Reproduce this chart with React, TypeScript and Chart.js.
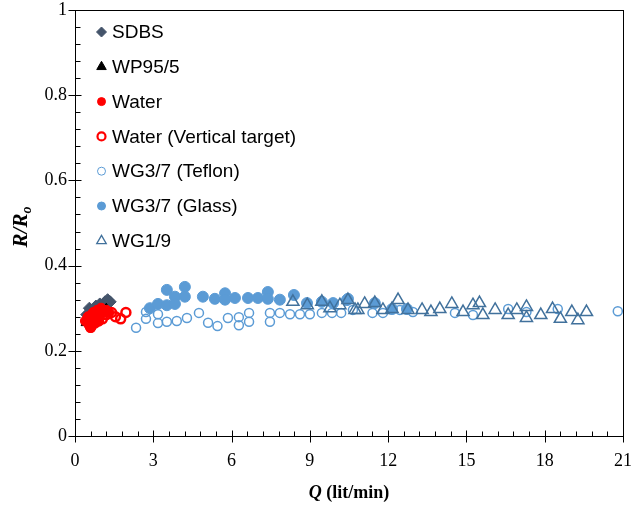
import React, { useEffect, useRef } from 'react';
import { Chart, registerables } from 'chart.js';

Chart.register(...registerables);

// ---- Data (Q in lit/min, R/Ro) ----
const seriesNames = ['SDBS', 'WP95/5', 'Water', 'Water (Vertical target)', 'WG3/7 (Teflon)', 'WG3/7 (Glass)', 'WG1/9'];

const sdbsQ = [0.45, 0.55, 0.7, 0.8, 0.95, 1.05, 1.15, 1.25, 1.35];
const sdbsR = [0.285, 0.3, 0.295, 0.305, 0.31, 0.305, 0.315, 0.32, 0.315];

const wpQ = [0.4, 0.55, 0.7, 0.85, 1.0, 1.1, 1.2];
const wpR = [0.265, 0.275, 0.29, 0.28, 0.29, 0.295, 0.3];

const waterQ = [0.4, 0.5, 0.55, 0.65, 0.7, 0.8, 0.85, 0.95, 1.0, 1.1, 1.2, 1.3, 0.6, 0.9];
const waterR = [0.27, 0.28, 0.26, 0.275, 0.29, 0.28, 0.295, 0.285, 0.3, 0.29, 0.295, 0.29, 0.255, 0.27];

const waterVQ = [0.6, 0.75, 0.9, 1.05, 1.2, 1.4, 1.55, 1.75, 1.95];
const waterVR = [0.255, 0.265, 0.27, 0.275, 0.285, 0.29, 0.28, 0.275, 0.29];

const teflonQ = [2.34, 2.72, 2.72, 3.18, 3.18, 3.52, 3.9, 4.29, 4.75, 5.1, 5.46, 5.86, 6.28, 6.28, 6.67, 6.67, 7.47, 7.47, 7.85, 8.24, 8.62, 9.0, 9.46, 9.85, 10.2, 10.65, 11.4, 11.8, 12.45, 12.95, 14.56, 15.25, 16.6, 17.3, 18.5, 20.8];
const teflonR = [0.254, 0.275, 0.291, 0.286, 0.265, 0.268, 0.27, 0.277, 0.289, 0.266, 0.258, 0.277, 0.279, 0.26, 0.289, 0.268, 0.289, 0.268, 0.289, 0.286, 0.286, 0.286, 0.289, 0.289, 0.289, 0.296, 0.289, 0.289, 0.296, 0.291, 0.289, 0.284, 0.298, 0.291, 0.298, 0.293];

const glassQ = [2.87, 3.18, 3.52, 3.52, 3.83, 3.83, 4.21, 4.21, 4.9, 5.36, 5.75, 5.75, 6.13, 6.63, 7.01, 7.39, 7.39, 7.85, 8.39, 8.89, 9.46, 9.89, 10.42, 10.46, 11.49, 12.15, 12.72];
const glassR = [0.3, 0.31, 0.343, 0.307, 0.327, 0.31, 0.35, 0.327, 0.327, 0.322, 0.335, 0.32, 0.324, 0.324, 0.324, 0.338, 0.322, 0.32, 0.331, 0.312, 0.315, 0.312, 0.319, 0.322, 0.312, 0.298, 0.298];

const wg19Q = [8.35, 8.9, 9.46, 9.77, 10.15, 10.46, 10.73, 10.84, 11.1, 11.49, 11.8, 12.15, 12.38, 12.76, 13.3, 13.64, 13.98, 14.44, 14.87, 15.25, 15.5, 15.63, 16.1, 16.6, 16.93, 17.3, 17.3, 17.85, 18.3, 18.6, 19.04, 19.27, 19.6];
const wg19R = [0.315, 0.307, 0.315, 0.3, 0.307, 0.319, 0.296, 0.296, 0.31, 0.312, 0.296, 0.298, 0.319, 0.296, 0.296, 0.291, 0.298, 0.31, 0.291, 0.307, 0.312, 0.284, 0.296, 0.284, 0.296, 0.303, 0.277, 0.284, 0.298, 0.275, 0.291, 0.272, 0.291];

const xMin = 0, xMax = 21, xStep = 3, xMinorStep = 0.6;
const yMin = 0, yMax = 1, yStep = 0.2, yMinorStep = 0.04;

const SERIF = '"Liberation Serif", "Times New Roman", serif';
const SANS = '"Liberation Sans", Arial, sans-serif';

function pts(q: number[], r: number[]) {
  return q.map((x, i) => ({ x, y: r[i] }));
}

type Marker = { shape: 'rectRot' | 'triangle' | 'circle'; fill: string; stroke: string; lw: number; r: number };
const legendMarkers: Marker[] = [
  { shape: 'rectRot', fill: '#44546A', stroke: '#44546A', lw: 1, r: 5 },
  { shape: 'triangle', fill: '#000000', stroke: '#000000', lw: 1, r: 5.5 },
  { shape: 'circle', fill: '#FF0000', stroke: '#FF0000', lw: 1, r: 4 },
  { shape: 'circle', fill: 'rgba(0,0,0,0)', stroke: '#FF0000', lw: 2.2, r: 4 },
  { shape: 'circle', fill: 'rgba(0,0,0,0)', stroke: '#5B9BD5', lw: 1, r: 4 },
  { shape: 'circle', fill: '#5B9BD5', stroke: '#5B9BD5', lw: 1, r: 4 },
  { shape: 'triangle', fill: 'rgba(0,0,0,0)', stroke: '#41719C', lw: 1.3, r: 5.5 },
];

function drawMarker(ctx: CanvasRenderingContext2D, m: Marker, x: number, y: number) {
  ctx.save();
  ctx.beginPath();
  if (m.shape === 'circle') {
    ctx.arc(x, y, m.r, 0, Math.PI * 2);
  } else if (m.shape === 'rectRot') {
    ctx.moveTo(x, y - m.r);
    ctx.lineTo(x + m.r, y);
    ctx.lineTo(x, y + m.r);
    ctx.lineTo(x - m.r, y);
    ctx.closePath();
  } else {
    const a = m.r;
    ctx.moveTo(x, y - a);
    ctx.lineTo(x + a * Math.sin(Math.PI / 3), y + a / 2);
    ctx.lineTo(x - a * Math.sin(Math.PI / 3), y + a / 2);
    ctx.closePath();
  }
  ctx.fillStyle = m.fill;
  ctx.fill();
  ctx.lineWidth = m.lw;
  ctx.strokeStyle = m.stroke;
  ctx.stroke();
  ctx.restore();
}

const framePlugin = {
  id: 'frameTicks',
  afterDraw(chart: any) {
    const { ctx, chartArea: ca, scales } = chart;
    const xs = scales.x, ys = scales.y;
    ctx.save();
    ctx.strokeStyle = '#000';
    ctx.lineWidth = 1;
    ctx.strokeRect(Math.round(ca.left) + 0.5, Math.round(ca.top) + 0.5, Math.round(ca.right - ca.left), Math.round(ca.bottom - ca.top));
    ctx.beginPath();
    const yb = Math.round(ca.bottom) + 0.5;
    const xl = Math.round(ca.left) + 0.5;
    for (let i = 0; i <= Math.round((xMax - xMin) / xMinorStep); i++) {
      const v = xMin + i * xMinorStep;
      const px = Math.round(xs.getPixelForValue(v)) + 0.5;
      ctx.moveTo(px, yb);
      ctx.lineTo(px, yb - 5);
    }
    for (let i = 0; i <= Math.round((xMax - xMin) / xStep); i++) {
      const v = xMin + i * xStep;
      const px = Math.round(xs.getPixelForValue(v)) + 0.5;
      ctx.moveTo(px, yb - 6);
      ctx.lineTo(px, yb + 6);
    }
    for (let i = 0; i <= Math.round((yMax - yMin) / yMinorStep); i++) {
      const v = yMin + i * yMinorStep;
      const py = Math.round(ys.getPixelForValue(v)) + 0.5;
      ctx.moveTo(xl, py);
      ctx.lineTo(xl + 5, py);
    }
    for (let i = 0; i <= Math.round((yMax - yMin) / yStep); i++) {
      const v = yMin + i * yStep;
      const py = Math.round(ys.getPixelForValue(v)) + 0.5;
      ctx.moveTo(xl - 7, py);
      ctx.lineTo(xl + 6, py);
    }
    ctx.stroke();

    // Axis titles
    ctx.fillStyle = '#000';
    ctx.textBaseline = 'middle';
    const xa = 'bold italic 18px ' + SERIF;
    const xb = 'bold 18px ' + SERIF;
    ctx.font = xa; const wq = ctx.measureText('Q').width;
    ctx.font = xb; const wr = ctx.measureText(' (lit/min)').width;
    const cx = (ca.left + ca.right) / 2;
    const sx = cx - (wq + wr) / 2;
    const ty = 493;
    ctx.textAlign = 'left';
    ctx.font = xa; ctx.fillText('Q', sx, ty);
    ctx.font = xb; ctx.fillText(' (lit/min)', sx + wq, ty);

    ctx.save();
    ctx.translate(22, (ca.top + ca.bottom) / 2 + 4);
    ctx.rotate(-Math.PI / 2);
    const ya = 'bold italic 21px ' + SERIF;
    const ysub = 'bold italic 14px ' + SERIF;
    ctx.font = ya; const w1 = ctx.measureText('R/R').width;
    ctx.font = ysub; const w2 = ctx.measureText('o').width;
    const s0 = -(w1 + w2) / 2;
    ctx.font = ya; ctx.fillText('R/R', s0, 0);
    ctx.font = ysub; ctx.fillText('o', s0 + w1, 5);
    ctx.restore();

    // Legend
    const lx = 101.5, ly0 = 32, dy = 34.8;
    ctx.font = '19px ' + SANS;
    ctx.textAlign = 'left';
    chart.data.datasets.forEach((ds: any, i: number) => {
      const y = ly0 + i * dy;
      drawMarker(ctx, legendMarkers[i], lx, y);
      ctx.fillStyle = '#000';
      ctx.fillText(ds.label, 112, y + 1);
    });
    ctx.restore();
  },
};

export default function App() {
  const ref = useRef<HTMLCanvasElement | null>(null);
  useEffect(() => {
    if (!ref.current) return;
    const chart = new Chart(ref.current, {
      type: 'scatter',
      data: {
        datasets: [
          { label: seriesNames[0], data: pts(sdbsQ, sdbsR), pointStyle: 'rectRot', pointRadius: 6, backgroundColor: '#44546A', borderColor: '#44546A', borderWidth: 1, order: 7 },
          { label: seriesNames[1], data: pts(wpQ, wpR), pointStyle: 'triangle', pointRadius: 5, backgroundColor: '#000000', borderColor: '#000000', borderWidth: 1, order: 6 },
          { label: seriesNames[2], data: pts(waterQ, waterR), pointStyle: 'circle', pointRadius: 5, backgroundColor: '#FF0000', borderColor: '#FF0000', borderWidth: 1, order: 5 },
          { label: seriesNames[3], data: pts(waterVQ, waterVR), pointStyle: 'circle', pointRadius: 4.5, backgroundColor: 'rgba(0,0,0,0)', borderColor: '#FF0000', borderWidth: 2.5, order: 4 },
          { label: seriesNames[4], data: pts(teflonQ, teflonR), pointStyle: 'circle', pointRadius: 4.5, backgroundColor: 'rgba(0,0,0,0)', borderColor: '#5B9BD5', borderWidth: 1.5, order: 3 },
          { label: seriesNames[5], data: pts(glassQ, glassR), pointStyle: 'circle', pointRadius: 5.5, backgroundColor: '#5B9BD5', borderColor: '#5B9BD5', borderWidth: 1, order: 2 },
          { label: seriesNames[6], data: pts(wg19Q, wg19R), pointStyle: 'triangle', pointRadius: 7, backgroundColor: 'rgba(0,0,0,0)', borderColor: '#41719C', borderWidth: 1.5, order: 1 },
        ],
      },
      options: {
        responsive: false,
        animation: false,
        events: [],
        layout: { padding: 0 },
        plugins: { legend: { display: false }, tooltip: { enabled: false } },
        scales: {
          x: {
            type: 'linear',
            min: xMin,
            max: xMax,
            ticks: { stepSize: xStep, color: '#000', font: { family: SERIF, size: 18 }, padding: 14, maxRotation: 0 },
            grid: { display: false, drawTicks: false },
            border: { display: false },
            afterFit: (s: any) => { s.height = 80; s.paddingLeft = 0; s.paddingRight = 11; },
          },
          y: {
            type: 'linear',
            min: yMin,
            max: yMax,
            ticks: {
              stepSize: yStep,
              color: '#000',
              font: { family: SERIF, size: 18 },
              padding: 8,
              callback: (v: any) => String(Number(Number(v).toFixed(1))),
            },
            grid: { display: false, drawTicks: false },
            border: { display: false },
            afterFit: (s: any) => { s.width = 75; s.paddingTop = 10; s.paddingBottom = 0; },
          },
        },
      },
      plugins: [framePlugin],
    } as any);
    return () => chart.destroy();
  }, []);
  return (
    <div style={{ position: 'absolute', left: 0, top: 0, width: 634, height: 516, background: '#fff' }}>
      <canvas ref={ref} width={634} height={516} style={{ display: 'block' }} />
    </div>
  );
}
